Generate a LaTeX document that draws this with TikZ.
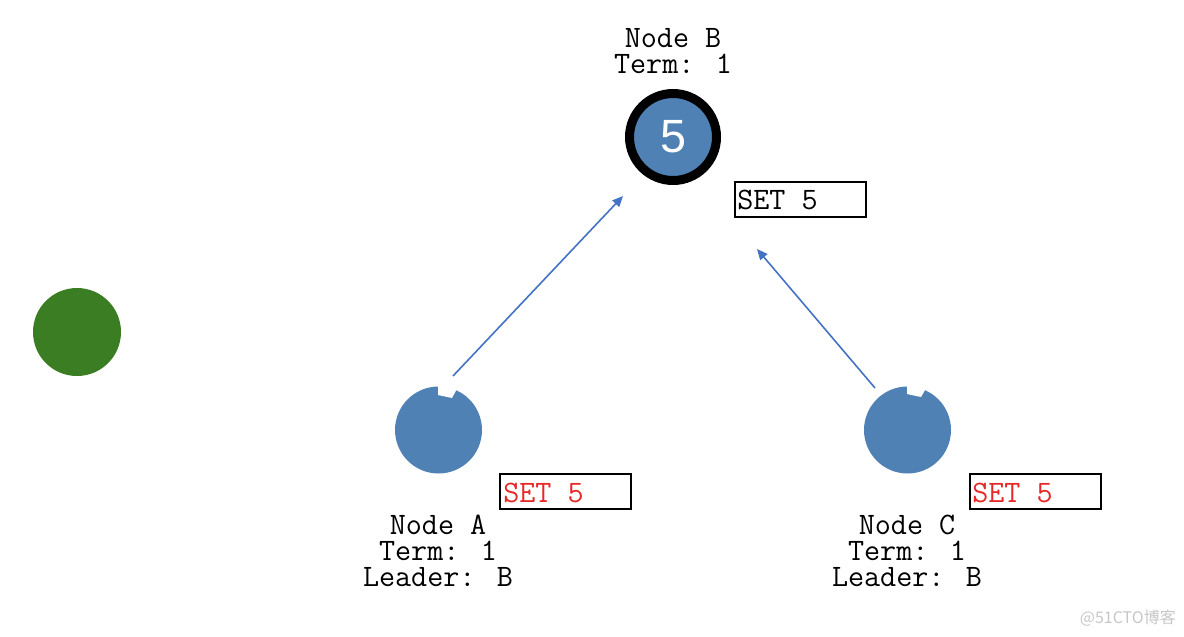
\documentclass[tikz,border=0pt]{standalone}
\usepackage{fontspec}
\newfontfamily\sansf{Liberation Sans}
\newfontfamily\cjk{Noto Sans CJK SC}
\newfontfamily\monof{Latin Modern Mono}
\usetikzlibrary{arrows.meta}
\definecolor{nodeblue}{RGB}{80,129,180}
\definecolor{nodegreen}{RGB}{58,125,34}
\definecolor{arrowblue}{RGB}{68,114,196}
\definecolor{setred}{RGB}{230,40,40}
\tikzset{
  lbl/.style={align=center, font=\monof\fontsize{23.4pt}{19.5pt}\selectfont, inner sep=0pt},
  setbox/.style={draw=black, line width=1.5pt, minimum width=131*0.75pt, minimum height=35*0.75pt, inner sep=0pt},
  settext/.style={anchor=west, inner sep=0pt, font=\monof\fontsize{23.4pt}{19.5pt}\selectfont},
  follower/.style={circle, fill=nodeblue, minimum size=87*0.75pt, inner sep=0pt},
  conn/.style={draw=arrowblue, line width=1.2pt, -{Triangle[length=8pt,width=7pt]}},
}
\begin{document}
\begin{tikzpicture}[x=0.75pt,y=-0.75pt]
\useasboundingbox (0,0) rectangle (1184,636);
% green node
\node[circle, fill=nodegreen, minimum size=88*0.75pt, inner sep=0pt] (G) at (77,332) {};
% leader B
\node[circle, fill=nodeblue, draw=black, line width=6.75pt, minimum size=87*0.75pt, inner sep=0pt,
      font=\sansf\fontsize{35pt}{35pt}\selectfont, text=white] (B) at (673,137) {5};
\node[lbl] (Blbl) at (673,51) {Node B\\Term: 1};
\node[setbox] (Bset) at (800,199) {};
\node[settext] (Bsettxt) at (737,200) {SET 5};
% follower A
\node[follower] (A) at (438.5,430) {};
\fill[white] (438,378) -- (438,395) -- (452,398) -- (463,378) -- cycle;
\node[lbl] (Albl) at (438,551) {Node A\\Term: 1\\Leader: B};
\node[setbox] (Aset) at (565.5,491.5) {};
\node[settext, text=setred] (Asettxt) at (503,492.5) {SET 5};
% follower C
\node[follower] (C) at (907.5,430) {};
\fill[white] (907,378) -- (907,394) -- (921,397) -- (932,378) -- cycle;
\node[lbl] (Clbl) at (907,551) {Node C\\Term: 1\\Leader: B};
\node[setbox] (Cset) at (1035,491.5) {};
\node[settext, text=setred] (Csettxt) at (972,492.5) {SET 5};
% connectors
\coordinate (Aout) at (453,376);
\coordinate (Bin1) at (623,196);
\coordinate (Cout) at (875,388);
\coordinate (Bin2) at (757,249);
\draw[conn] (Aout) -- (Bin1);
\draw[conn] (Cout) -- (Bin2);
% watermark
\node[font=\cjk\fontsize{12pt}{12pt}\selectfont, text=black!22, anchor=east, inner sep=0pt] (wm) at (1176,618) {@51CTO博客};
\end{tikzpicture}
\end{document}
